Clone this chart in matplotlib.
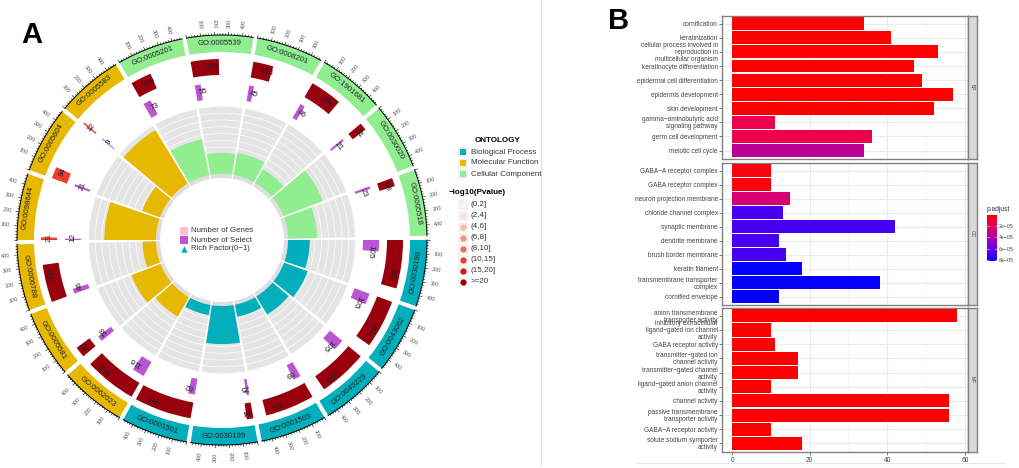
import numpy as np
import matplotlib
matplotlib.use("Agg")
import matplotlib.pyplot as plt
from matplotlib.cm import ScalarMappable
from matplotlib.colors import LinearSegmentedColormap, Normalize
from matplotlib.lines import Line2D

plt.rcParams["font.family"] = ["Liberation Sans", "DejaVu Sans"]

W, H = 1020, 468

# ---------- panel A data, clockwise from 3 o'clock ----------
go_ids = [
    "GO:0030198", "GO:0043062", "GO:0045229", "GO:0001503", "GO:0030199", "GO:0001501",
    "GO:0062023", "GO:0005581", "GO:0006788", "GO:0098644", "GO:0005604", "GO:0005583",
    "GO:0005201", "GO:0005539", "GO:0008201", "GO:1901681", "GO:0030020", "GO:0005518",
]
ontology = ["BP"] * 6 + ["MF"] * 6 + ["CC"] * 6
n_genes = [393, 394, 396, 401, 54, 466, 423, 87, 306, 21, 94, 12, 170, 228, 164, 260, 61, 68]
n_select = [105, 105, 105, 69, 25, 62, 116, 53, 46, 12, 21, 9, 73, 55, 45, 46, 21, 23]
rich = [0.32, 0.37, 0.31, 0.18, 0.56, 0.15, 0.33, 0.46, 0.20, 0.76, 0.28, 0.92,
        0.54, 0.31, 0.33, 0.23, 0.62, 0.43]
# index into pval_colors
pval_class = [7, 7, 7, 7, 7, 7, 7, 7, 7, 5, 5, 5, 7, 7, 7, 7, 7, 7]

onto_names = ["Biological Process", "Molecular Function", "Cellular Component"]
onto_colors = {"BP": "#00AFBB", "MF": "#E7B800", "CC": "#90EE90"}
pval_labels = ["(0,2]", "(2,4]", "(4,6]", "(6,8]", "(8,10]", "(10,15]", "(15,20]", ">=20"]
pval_colors = ["#FFF5F0", "#FEE0D2", "#FCBBA1", "#FC9272", "#FB6A4A", "#EF3B2C", "#CB181D", "#99000D"]

# ---------- panel B data ----------
bp_terms = [
    "cornification", "keratinization",
    "cellular process involved in\nreproduction in\nmulticellular organism",
    "keratinocyte differentiation", "epidermal cell differentiation",
    "epidermis development", "skin development",
    "gamma\u2212aminobutyric acid\nsignaling pathway", "germ cell development",
    "meiotic cell cycle",
]
bp_counts = [34, 41, 53, 47, 49, 57, 52, 11, 36, 34]
bp_padj = [1e-7, 1e-7, 1e-7, 1e-7, 1e-7, 1e-7, 1e-7, 1.5e-5, 1.4e-5, 3.6e-5]

cc_terms = [
    "GABA\u2212A receptor complex", "GABA receptor complex", "neuron projection membrane",
    "chloride channel complex", "synaptic membrane", "dendrite membrane",
    "brush border membrane", "keratin filament",
    "transmembrane transporter\ncomplex", "cornified envelope",
]
cc_counts = [10, 10, 15, 13, 42, 12, 14, 18, 38, 12]
cc_padj = [3e-6, 3e-6, 2.6e-5, 6.8e-5, 6.8e-5, 6.8e-5, 6.8e-5, 8.1e-5, 8.1e-5, 8.1e-5]

mf_terms = [
    "anion transmembrane\ntransporter activity",
    "inhibitory extracellular\nligand\u2212gated ion channel\nactivity",
    "GABA receptor activity", "transmitter\u2212gated ion\nchannel activity",
    "transmitter\u2212gated channel\nactivity", "ligand\u2212gated anion channel\nactivity",
    "channel activity", "passive transmembrane\ntransporter activity",
    "GABA\u2212A receptor activity", "solute:sodium symporter\nactivity",
]
mf_counts = [58, 10, 11, 17, 17, 10, 56, 56, 10, 18]
mf_padj = [1e-7] * 10

padj_cmap = LinearSegmentedColormap.from_list(
    "padj", ["#FF0000", "#EB0055", "#C80087", "#8A00D0", "#5500F0", "#0000FF"],
)
padj_norm = Normalize(0, 8.2e-5)

fig = plt.figure(figsize=(W / 100, H / 100), dpi=100)


def px_axes(left, top, right, bottom, **kw):
    # axes from pixel box, y counted from the top of the picture
    return fig.add_axes(
        [left / W, 1 - bottom / H, (right - left) / W, (bottom - top) / H], **kw
    )


# ---------- panel A: circle ----------
cx, cy, rmax = 222, 240, 260
ax = px_axes(cx - rmax, cy - rmax, cx + rmax, cy + rmax, projection="polar")
ax.set_theta_zero_location("N")
ax.set_theta_direction(-1)
ax.set_ylim(0, rmax)
ax.axis("off")

sector_w = 18.8
deg_per_unit = 0.0395
bands = 10
r_hole, r_in, r_out = 62, 66, 134


def polar_bar(start, span, bottom, height, color):
    ax.bar(np.deg2rad(start), height, width=np.deg2rad(span), bottom=bottom,
           align="edge", color=color, linewidth=0)


for i, go in enumerate(go_ids):
    start = 90 + 20 * i
    mid = start + sector_w / 2
    col = onto_colors[ontology[i]]

    # inner track with rich factor
    polar_bar(start, sector_w, r_hole, r_in - r_hole, "#DEDEDE")
    step = (r_out - r_in) / bands
    for b in range(bands):
        polar_bar(start, sector_w, r_in + b * step, step - 0.7, "#E5E5E5")
    polar_bar(start, sector_w, r_in, (r_out - r_in) * rich[i], col)

    # selected genes
    span = n_select[i] * deg_per_unit
    polar_bar(start, span, 141, 16, "#BA55D3")
    ang = start + span + 0.5
    ax.text(np.deg2rad(ang), 149, str(n_select[i]), fontsize=5.8, rotation=-ang,
            rotation_mode="anchor", ha="center", va="center", color="#222222")

    # all genes
    span = n_genes[i] * deg_per_unit
    polar_bar(start, span, 165, 16, pval_colors[pval_class[i]])
    ang = start + span * 0.7 + 0.3
    ax.text(np.deg2rad(ang), 173, str(n_genes[i]), fontsize=5.8, rotation=-ang,
            rotation_mode="anchor", ha="center", va="center", color="#222222")

    # outer labelled ring
    polar_bar(start, sector_w, 188, 17, col)
    flip = 90 < (mid % 360) < 270
    ax.text(np.deg2rad(mid), 196.5, go, fontsize=5.6, color="#222222",
            rotation=(180 - mid) if flip else -mid, rotation_mode="anchor",
            ha="center", va="center")

    # axis with ticks
    thetas = np.deg2rad(np.linspace(start, start + sector_w, 30))
    ax.plot(thetas, np.full_like(thetas, 205), color="black", lw=0.7)
    for v in range(0, 480, 20):
        a = np.deg2rad(start + v * deg_per_unit)
        ax.plot([a, a], [205, 208 if v % 100 == 0 else 206.5], color="black", lw=0.4)
    for v in [100, 200, 300, 400]:
        a = start + v * deg_per_unit
        rot = (90 - a) if (a % 360) < 180 else (-90 - a)
        ax.text(np.deg2rad(a), 217, str(v), fontsize=3.9, color="#555555", rotation=rot,
                rotation_mode="anchor", ha="center", va="center")

# ---------- overlay in picture pixels: letters, legends, dividers ----------
ov = fig.add_axes([0, 0, 1, 1])
ov.set_xlim(0, W)
ov.set_ylim(H, 0)
ov.axis("off")

ov.text(21, 42.7, "A", fontsize=21, fontweight="bold", va="baseline", ha="left")
ov.text(608.5, 29.3, "B", fontsize=21, fontweight="bold", va="baseline", ha="left")

ov.add_line(Line2D([541, 541], [0, 465], color="#E3E3E3", lw=0.8))
ov.add_line(Line2D([636, 1005], [463, 463], color="#E8E8E8", lw=0.8))

# centre legend
ov.scatter([184, 184], [231, 240], marker="s", s=26, color=["#FFC0CB", "#BA55D3"], linewidths=0)
ov.scatter([184], [249], marker="^", s=22, color="#00AFBB", linewidths=0)
for y, t in zip([231, 240, 249], ["Number of Genes", "Number of Select", "Rich Factor(0\u22121)"]):
    ov.text(191, y, t, fontsize=5.7, va="center", ha="left", color="#333333")

# right legends
ov.text(498, 140, "ONTOLOGY", fontsize=5.8, fontweight="bold", ha="center", va="center")
for k, (name, key) in enumerate(zip(onto_names, ["BP", "MF", "CC"])):
    y = 152 + 11 * k
    ov.scatter([463], [y], marker="s", s=55, color="#F2F2F2", linewidths=0)
    ov.scatter([463], [y], marker="s", s=24, color=onto_colors[key], linewidths=0)
    ov.text(471, y, name, fontsize=5.8, va="center", ha="left", color="#333333")

ov.text(449, 192, "\u2212log10(Pvalue)", fontsize=5.8, fontweight="bold", ha="left", va="center")
for k, (lab, col) in enumerate(zip(pval_labels, pval_colors)):
    y = 204.5 + 11 * k
    ov.scatter([463], [y], marker="s", s=55, color="#F2F2F2", linewidths=0)
    ov.scatter([463], [y], marker="o", s=20, color=col, linewidths=0)
    ov.text(471, y, lab, fontsize=5.8, va="center", ha="left", color="#333333")

# ---------- panel B: faceted bars ----------
facets = [
    ("BP", bp_terms, bp_counts, bp_padj, 16, 159),
    ("CC", cc_terms, cc_counts, cc_padj, 163, 305),
    ("MF", mf_terms, mf_counts, mf_padj, 308, 452),
]
for name, terms, counts, padj, top, bottom in facets:
    a = px_axes(722, top, 968, bottom)
    y = np.arange(len(terms))
    a.barh(y, counts, height=0.92, color=padj_cmap(padj_norm(padj)), linewidth=0, zorder=3)
    a.set_xlim(-2.6, 60.8)
    a.set_ylim(9.6, -0.55)
    a.set_yticks(y)
    a.set_yticklabels(terms, fontsize=4.7, color="#444444", linespacing=1.0)
    for lab in a.get_yticklabels():
        lab.set_multialignment("right")
    a.set_xticks([0, 20, 40, 60])
    a.set_xticks([10, 30, 50], minor=True)
    a.grid(True, which="major", color="#EBEBEB", lw=0.8, zorder=0)
    a.grid(True, which="minor", axis="x", color="#F2F2F2", lw=0.5, zorder=0)
    a.tick_params(axis="y", length=2, width=0.5, pad=1, color="#444444")
    a.tick_params(axis="x", which="minor", length=0)
    if name == "MF":
        a.tick_params(axis="x", which="major", length=2, width=0.5, pad=1.5,
                      labelsize=4.8, labelcolor="#444444", color="#444444")
    else:
        a.tick_params(axis="x", which="major", length=0, labelbottom=False)
    for s in a.spines.values():
        s.set_color("#808080")
        s.set_linewidth(1.0)

    strip = px_axes(968, top, 977, bottom)
    strip.set_facecolor("#D9D9D9")
    strip.set_xticks([])
    strip.set_yticks([])
    for s in strip.spines.values():
        s.set_color("#808080")
        s.set_linewidth(1.0)
    strip.text(0.5, 0.5, name, fontsize=3.6, rotation=-90, ha="center", va="center",
               color="#444444", transform=strip.transAxes)

# colour bar
cax = px_axes(987, 215, 997, 261)
cb = fig.colorbar(ScalarMappable(norm=padj_norm, cmap=padj_cmap), cax=cax)
cax.invert_yaxis()
cb.set_ticks([2e-5, 4e-5, 6e-5, 8e-5])
cb.set_ticklabels(["2e\u221205", "4e\u221205", "6e\u221205", "8e\u221205"])
cb.ax.tick_params(labelsize=3.8, length=0, pad=1.5, labelcolor="#444444")
cb.outline.set_visible(False)
for t in [2e-5, 4e-5, 6e-5, 8e-5]:
    cax.plot([0, 0.2], [t, t], color="white", lw=0.4, transform=cax.get_yaxis_transform())
    cax.plot([0.8, 1], [t, t], color="white", lw=0.4, transform=cax.get_yaxis_transform())
ov.text(987, 209.5, "p.adjust", fontsize=4.8, ha="left", va="center", color="#333333")

fig.savefig("out.png", dpi=100)
